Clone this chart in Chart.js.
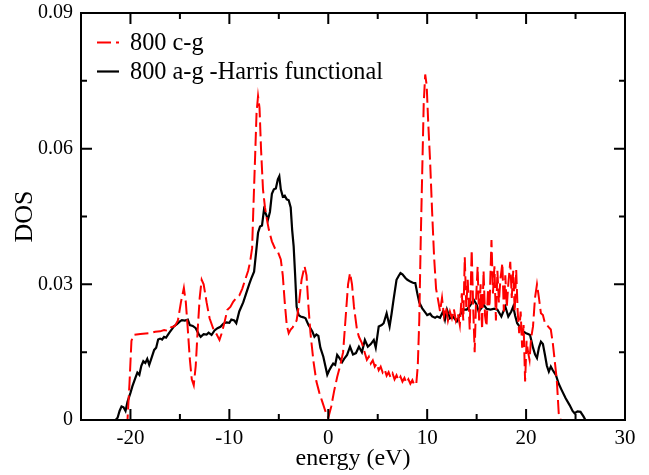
<!DOCTYPE html>
<html>
<head>
<meta charset="utf-8">
<script src="https://cdn.jsdelivr.net/npm/chart.js@4.4.1/dist/chart.umd.min.js"></script>
<style>
html,body{margin:0;padding:0;background:#fff;}
#wrap{width:649px;height:475px;position:relative;}
</style>
</head>
<body>
<div id="wrap"><canvas id="c" width="649" height="475"></canvas></div>
<script>
// ---- data ----
const seriesLabels = ["800 c-g", "800 a-g -Harris functional"];
const xTicks = [-20, -10, 0, 10, 20, 30];
const yTicks = [0, 0.03, 0.06, 0.09];
const xMinorTicks = [-15, -5, 5, 15, 25];
const yMinorTicks = [0.015, 0.045, 0.075];

const cgEnergy = [-25,-20.3,-20.1,-19.9,-19.7,-19,-18,-17.5,-17,-16.6,-16.2,-15.9,-15.5,-15.2,-14.9,-14.6,-14.4,-14.2,-14.0,-13.8,-13.6,-13.4,-13.2,-13.0,-12.8,-12.6,-12.3,-12.0,-11.6,-11.3,-11.0,-10.8,-10.5,-10.2,-9.9,-9.6,-9.3,-9.0,-8.7,-8.4,-8.1,-7.9,-7.7,-7.6,-7.4,-7.25,-7.1,-6.95,-6.8,-6.6,-6.4,-6.2,-6.0,-5.7,-5.4,-5.1,-4.8,-4.6,-4.4,-4.2,-4.0,-3.8,-3.6,-3.4,-3.2,-3.0,-2.7,-2.4,-2.2,-2.0,-1.8,-1.5,-1.2,-0.9,-0.6,-0.3,0.0,0.3,0.6,0.9,1.2,1.5,1.8,2.0,2.2,2.4,2.6,2.9,3.1,3.4,3.6,3.9,4.1,4.3,4.5,4.7,4.9,5.1,5.3,5.5,5.7,5.9,6.1,6.3,6.5,6.7,6.9,7.1,7.3,7.5,7.7,7.9,8.1,8.3,8.5,8.7,8.9,9.05,9.2,9.35,9.5,9.65,9.8,9.95,10.1,10.3,10.5,10.7,10.9,11.1,11.3,11.5,11.7,11.9,12.1,12.3,12.5,12.7,12.9,13.1,13.3,13.5,13.65,13.8,13.95,14.1,14.3,14.5,14.65,14.8,14.95,15.1,15.25,15.4,15.55,15.7,15.85,16.0,16.15,16.3,16.5,16.65,16.8,16.95,17.1,17.25,17.4,17.6,17.75,17.9,18.05,18.2,18.4,18.55,18.7,18.85,19.0,19.15,19.3,19.45,19.6,19.75,19.9,20.05,20.2,20.35,20.5,20.7,20.9,21.1,21.3,21.5,21.7,21.9,22.1,22.3,22.5,22.7,22.9,23.1,23.3,23.5,30];
const cgDos = [0,0,0.008,0.0175,0.0188,0.019,0.0192,0.0195,0.0196,0.0199,0.0197,0.0205,0.0208,0.022,0.026,0.0292,0.026,0.020,0.0135,0.009,0.0077,0.012,0.020,0.027,0.031,0.030,0.026,0.0225,0.020,0.019,0.0177,0.019,0.0215,0.0244,0.025,0.0262,0.027,0.0275,0.029,0.031,0.033,0.035,0.038,0.045,0.058,0.068,0.0716,0.069,0.060,0.051,0.047,0.0443,0.042,0.0395,0.038,0.0372,0.0355,0.032,0.026,0.021,0.0192,0.020,0.0205,0.0212,0.022,0.025,0.031,0.034,0.032,0.025,0.0192,0.013,0.0085,0.006,0.004,0.002,0.0005,0.003,0.0065,0.0095,0.012,0.015,0.024,0.030,0.0325,0.030,0.025,0.020,0.0184,0.017,0.0155,0.0133,0.014,0.0125,0.0132,0.0118,0.0125,0.011,0.0118,0.0105,0.0112,0.0098,0.0106,0.0094,0.0103,0.009,0.0099,0.0088,0.0096,0.0085,0.0093,0.0082,0.009,0.008,0.0088,0.0077,0.008,0.012,0.022,0.040,0.055,0.070,0.0764,0.074,0.066,0.057,0.046,0.036,0.029,0.0266,0.024,0.027,0.023,0.025,0.022,0.024,0.0225,0.0245,0.022,0.0235,0.021,0.028,0.022,0.036,0.025,0.031,0.020,0.0376,0.025,0.015,0.027,0.0339,0.022,0.030,0.020,0.033,0.023,0.0207,0.029,0.025,0.0398,0.028,0.034,0.022,0.033,0.026,0.031,0.0347,0.024,0.032,0.025,0.030,0.035,0.027,0.033,0.024,0.0332,0.024,0.0192,0.024,0.016,0.021,0.0085,0.0175,0.015,0.0133,0.018,0.0207,0.027,0.030,0.027,0.0236,0.0232,0.0215,0.021,0.0205,0.020,0.017,0.013,0.009,0.0015,0,0];

const agEnergy = [-25,-21.5,-21.3,-21.1,-20.9,-20.7,-20.5,-20.3,-20.0,-19.8,-19.5,-19.3,-19.1,-18.9,-18.7,-18.5,-18.3,-18.1,-17.9,-17.6,-17.4,-17.2,-17.0,-16.8,-16.6,-16.4,-16.1,-15.9,-15.6,-15.3,-15.0,-14.8,-14.5,-14.2,-14.0,-13.7,-13.4,-13.1,-12.9,-12.6,-12.3,-12.1,-11.8,-11.5,-11.2,-10.9,-10.6,-10.3,-10.0,-9.8,-9.5,-9.3,-9.0,-8.6,-8.3,-8.0,-7.8,-7.5,-7.3,-7.1,-6.9,-6.7,-6.5,-6.3,-6.1,-5.9,-5.7,-5.5,-5.3,-5.1,-4.95,-4.8,-4.6,-4.4,-4.2,-4.0,-3.8,-3.65,-3.5,-3.35,-3.2,-3.0,-2.8,-2.5,-2.3,-2.0,-1.8,-1.6,-1.4,-1.2,-1.0,-0.8,-0.5,-0.3,-0.1,0.1,0.3,0.5,0.7,0.9,1.1,1.4,1.6,1.9,2.2,2.5,2.8,3.1,3.4,3.7,4.0,4.3,4.6,4.8,5.1,5.4,5.6,5.9,6.2,6.4,6.6,6.9,7.1,7.3,7.5,7.8,8.0,8.3,8.6,8.8,9.0,9.2,9.5,9.8,10.0,10.3,10.5,10.8,11.0,11.3,11.6,11.8,12.0,12.3,12.6,13.0,13.3,13.7,14.0,14.3,14.7,15.0,15.2,15.5,15.7,16.0,16.4,16.8,17.1,17.5,17.9,18.2,18.5,18.7,18.9,19.1,19.4,19.7,20.0,20.2,20.4,20.7,20.9,21.1,21.3,21.5,21.7,21.9,22.1,22.3,22.5,22.7,23.0,23.3,23.6,24.0,24.4,24.7,24.9,25.2,25.5,25.8,26.0,30];
const agDos = [0,0,0.0005,0.002,0.003,0.0028,0.002,0.004,0.006,0.0075,0.0093,0.0105,0.010,0.012,0.013,0.0126,0.0135,0.0122,0.0135,0.0155,0.016,0.0178,0.018,0.0178,0.0184,0.0182,0.0192,0.0198,0.0207,0.0212,0.0218,0.0221,0.022,0.0222,0.021,0.0208,0.0203,0.019,0.0184,0.019,0.0189,0.0193,0.0188,0.0198,0.0203,0.0206,0.0213,0.0216,0.0215,0.0222,0.022,0.0214,0.024,0.026,0.028,0.030,0.0312,0.0328,0.037,0.0414,0.0428,0.043,0.0465,0.0455,0.0443,0.046,0.050,0.051,0.0512,0.0532,0.0539,0.051,0.0494,0.0496,0.0488,0.0486,0.047,0.042,0.0384,0.032,0.0251,0.0232,0.0229,0.0227,0.0225,0.021,0.0203,0.0195,0.0184,0.0189,0.0186,0.016,0.014,0.012,0.010,0.011,0.0118,0.0125,0.0122,0.0144,0.0138,0.0128,0.0135,0.0144,0.0162,0.0145,0.0148,0.0162,0.015,0.0177,0.0162,0.0168,0.0177,0.016,0.0207,0.021,0.0214,0.0236,0.0207,0.0235,0.0266,0.031,0.0318,0.0325,0.0322,0.0314,0.031,0.0306,0.0303,0.0303,0.028,0.026,0.0247,0.0238,0.0232,0.0235,0.0229,0.0226,0.0229,0.0226,0.024,0.0222,0.0244,0.0225,0.0229,0.0218,0.0232,0.0244,0.0244,0.0252,0.0266,0.0255,0.024,0.0248,0.0255,0.0246,0.0244,0.0246,0.0244,0.0229,0.0251,0.0229,0.024,0.0251,0.023,0.0214,0.0205,0.0196,0.0192,0.019,0.0188,0.016,0.0145,0.0137,0.016,0.0173,0.0168,0.0145,0.012,0.0107,0.0118,0.011,0.0100,0.008,0.0066,0.0048,0.0033,0.002,0.0015,0.0019,0.0018,0.0008,0,0];

// ---- chart ----
const FONT = "'Liberation Serif', 'Times New Roman', serif";
const toPts = (xs, ys) => xs.map((x, i) => ({x: x, y: ys[i]}));

const framePlugin = {
  id: 'frame',
  afterDraw(chart) {
    const ctx = chart.ctx, a = chart.chartArea;
    const xs = chart.scales.x, ys = chart.scales.y;
    ctx.save();
    ctx.strokeStyle = '#000';
    ctx.lineWidth = 2;
    ctx.strokeRect(a.left, a.top, a.right - a.left, a.bottom - a.top);
    ctx.beginPath();
    const tick = (vals, len) => {
      vals.forEach(v => {
        const px = xs.getPixelForValue(v);
        if (px <= a.left + 1 || px >= a.right - 1) return;
        ctx.moveTo(px, a.bottom); ctx.lineTo(px, a.bottom - len);
        ctx.moveTo(px, a.top); ctx.lineTo(px, a.top + len);
      });
    };
    const ytick = (vals, len) => {
      vals.forEach(v => {
        const py = ys.getPixelForValue(v);
        if (py <= a.top + 1 || py >= a.bottom - 1) return;
        ctx.moveTo(a.left, py); ctx.lineTo(a.left + len, py);
        ctx.moveTo(a.right, py); ctx.lineTo(a.right - len, py);
      });
    };
    tick(xTicks, 11); tick(xMinorTicks, 6);
    ytick(yTicks, 11); ytick(yMinorTicks, 6);
    ctx.stroke();

    // legend inside plot
    ctx.font = "24.3px " + FONT;
    ctx.textBaseline = 'middle';
    ctx.textAlign = 'left';
    chart.data.datasets.forEach((ds, i) => {
      const y = 42.5 + i * 29;
      ctx.beginPath();
      ctx.strokeStyle = ds.borderColor;
      ctx.lineWidth = ds.borderWidth;
      ctx.setLineDash(ds.borderDash || []);
      ctx.moveTo(97, y); ctx.lineTo(119, y);
      ctx.stroke();
      ctx.setLineDash([]);
      ctx.fillStyle = '#000';
      ctx.fillText(ds.label, 130, y + 1);
    });
    ctx.restore();
  }
};

new Chart(document.getElementById('c'), {
  type: 'line',
  data: {
    datasets: [
      {label: seriesLabels[0], data: toPts(cgEnergy, cgDos), borderColor: '#ff0000', borderWidth: 2, borderDash: [14, 5], pointRadius: 0, tension: 0, fill: false},
      {label: seriesLabels[1], data: toPts(agEnergy, agDos), borderColor: '#000000', borderWidth: 2.2, pointRadius: 0, tension: 0, fill: false}
    ]
  },
  options: {
    responsive: false,
    animation: false,
    events: [],
    layout: {padding: {top: 13, right: 24, left: 0, bottom: 0}},
    plugins: {legend: {display: false}, tooltip: {enabled: false}},
    scales: {
      x: {
        type: 'linear', min: -25, max: 30,
        afterBuildTicks: s => { s.ticks = xTicks.map(v => ({value: v})); },
        afterFit: s => { s.height = 55; s.paddingLeft = 0; s.paddingRight = 0; },
        grid: {display: false, drawTicks: false},
        border: {display: false},
        ticks: {color: '#000', font: {family: FONT, size: 21}, padding: 6, maxRotation: 0, callback: v => String(v)},
        title: {display: true, text: 'energy (eV)', color: '#000', font: {family: FONT, size: 24}, padding: {top: 0, bottom: 2}}
      },
      y: {
        type: 'linear', min: 0, max: 0.09,
        afterBuildTicks: s => { s.ticks = yTicks.map(v => ({value: v})); },
        afterFit: s => { s.width = 81; s.paddingTop = 0; s.paddingBottom = 0; },
        grid: {display: false, drawTicks: false},
        border: {display: false},
        ticks: {color: '#000', font: {family: FONT, size: 20}, padding: 8, callback: v => (v === 0 ? '0' : v.toFixed(2))},
        title: {display: true, text: 'DOS', color: '#000', font: {family: FONT, size: 26}, padding: {top: 10, bottom: 0}}
      }
    }
  },
  plugins: [framePlugin]
});
</script>
</body>
</html>
